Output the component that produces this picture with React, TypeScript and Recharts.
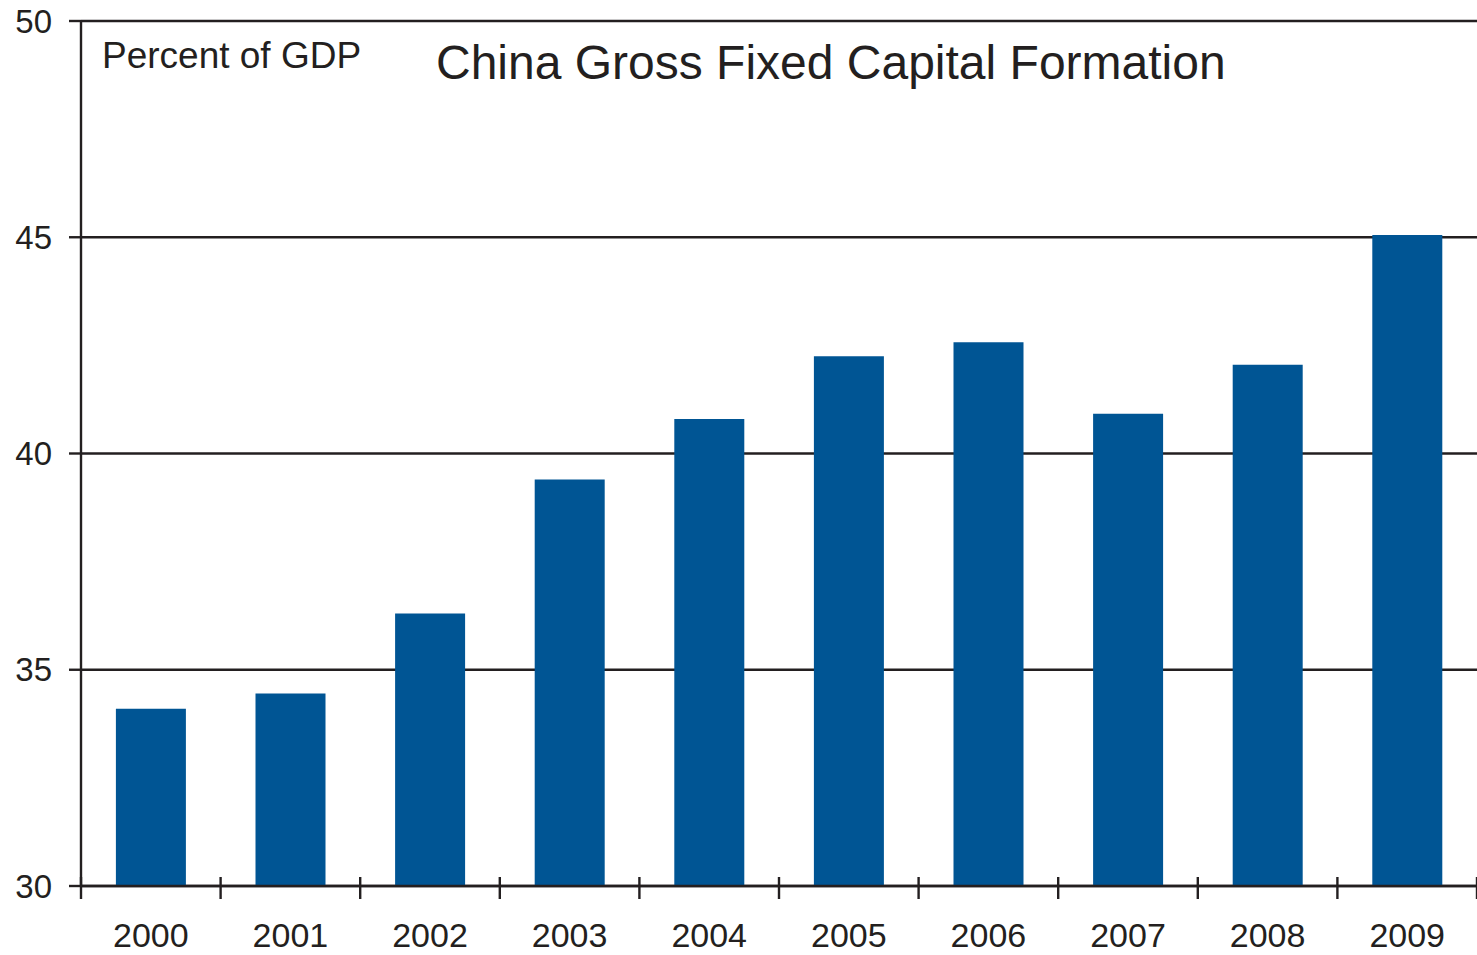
import React from "react";
import { BarChart, Bar, XAxis, YAxis, CartesianGrid } from "recharts";

const years: string[] = ["2000", "2001", "2002", "2003", "2004", "2005", "2006", "2007", "2008", "2009"];
const gfcf: number[] = [34.1, 34.45, 36.3, 39.4, 40.8, 42.25, 42.57, 40.92, 42.05, 45.05];
const yTicks: number[] = [30, 35, 40, 45, 50];

const data = years.map((year, i) => ({ year, value: gfcf[i] }));

const W = 1477;
const H = 955;
const LEFT = 81;
const TOP = 21;
const AXIS_H = 69;
const INK = "#231f20";
const FONT = "Arial, 'Liberation Sans', Helvetica, sans-serif";
const step = (W - LEFT) / years.length;

const YearTick = (props: any) => {
  const { x, y, payload, index } = props;
  const half = step / 2;
  return (
    <g>
      <line x1={x - half} x2={x - half} y1={y - 9} y2={y + 13} stroke={INK} strokeWidth={2.4} />
      {index === years.length - 1 && (
        <line x1={x + half} x2={x + half} y1={y - 9} y2={y + 13} stroke={INK} strokeWidth={2.4} />
      )}
      <text x={x} y={y + 61} textAnchor="middle" fontSize={34} fontFamily={FONT} fill={INK}>
        {payload.value}
      </text>
    </g>
  );
};

const App: React.FC = () => {
  return (
    <div style={{ position: "absolute", left: 0, top: 0, width: W, height: H, background: "#fff" }}>
      <BarChart
        width={W}
        height={H}
        data={data}
        margin={{ top: TOP, right: 0, bottom: 0, left: 0 }}
        barCategoryGap="25%"
      >
        <CartesianGrid vertical={false} stroke={INK} strokeWidth={2.4} />
        <XAxis
          dataKey="year"
          height={AXIS_H}
          tickLine={false}
          tickSize={0}
          tickMargin={0}
          axisLine={{ stroke: INK, strokeWidth: 2.4 }}
          tick={<YearTick />}
          interval={0}
        />
        <YAxis
          width={LEFT}
          domain={[30, 50]}
          ticks={yTicks}
          allowDataOverflow
          tickSize={12}
          tickMargin={17}
          tickLine={{ stroke: INK, strokeWidth: 2.4 }}
          axisLine={{ stroke: INK, strokeWidth: 2.4 }}
          tick={{ fontSize: 33, fontFamily: FONT, fill: INK }}
        />
        <Bar dataKey="value" fill="#005594" isAnimationActive={false} />
      </BarChart>
      <svg
        width={W}
        height={H}
        style={{ position: "absolute", left: 0, top: 0, pointerEvents: "none" }}
      >
        <text x={102} y={68} fontSize={37} fontFamily={FONT} fill={INK}>
          Percent of GDP
        </text>
        <text x={436} y={79} fontSize={48} fontFamily={FONT} fill={INK}>
          China Gross Fixed Capital Formation
        </text>
      </svg>
    </div>
  );
};

export default App;
